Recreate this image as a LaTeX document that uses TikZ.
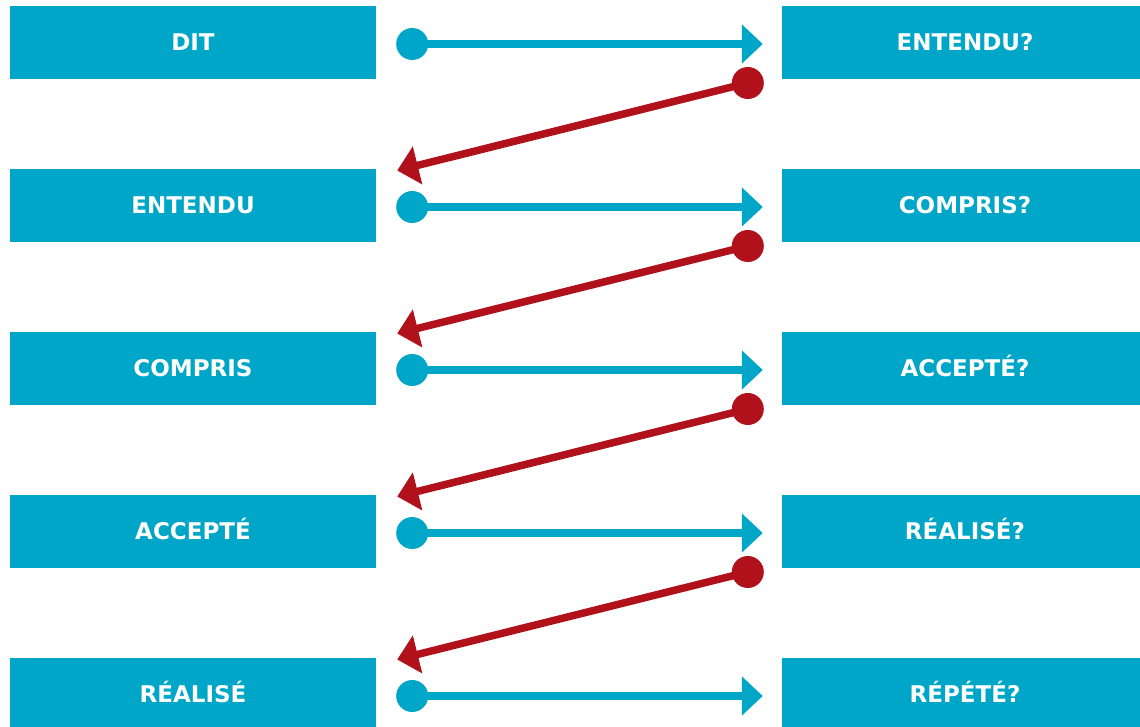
\documentclass[tikz,border=0pt]{standalone}
\usepackage{fontspec}
\setmainfont{DejaVu Sans}
\usetikzlibrary{arrows.meta,calc}
\definecolor{cblue}{RGB}{0,166,200}
\definecolor{cred}{RGB}{176,17,26}
\tikzset{
  box/.style={fill=cblue, text=white, minimum width=366pt, minimum height=73pt, inner sep=0pt,
    text height=16pt, text depth=0pt,
    font=\bfseries\fontsize{23}{23}\selectfont},
  blueline/.style={draw=cblue, line width=7.5pt, -{Triangle[length=21pt,width=38pt]}},
  redline/.style={draw=cred, line width=7.5pt, -{Triangle[length=21pt,width=38pt]}},
  bdot/.style={fill=cblue},
  rdot/.style={fill=cred}
}
\begin{document}
\begin{tikzpicture}[x=1pt,y=-1pt]
\useasboundingbox (0,0) rectangle (1140,727);
\node[box] (L1) at (193,42.5) {DIT};
\node[box] (L2) at (193,205.5) {ENTENDU};
\node[box] (L3) at (193,368.5) {COMPRIS};
\node[box] (L4) at (193,531.5) {ACCEPTÉ};
\node[box] (L5) at (193,694.5) {RÉALISÉ};
\node[box] (R1) at (965,42.5) {ENTENDU?};
\node[box] (R2) at (965,205.5) {COMPRIS?};
\node[box] (R3) at (965,368.5) {ACCEPTÉ?};
\node[box] (R4) at (965,531.5) {RÉALISÉ?};
\node[box] (R5) at (965,694.5) {RÉPÉTÉ?};
\foreach \i in {1,...,5}{
  \coordinate (bs\i) at ($(L\i.east)+(36,1.5)$);
  \coordinate (be\i) at ($(R\i.west)+(-19,1.5)$);
  \draw[blueline] (bs\i) -- (be\i);
  \fill[bdot] (bs\i) circle[radius=16pt];
}
\foreach \i/\j in {1/2,2/3,3/4,4/5}{
  \coordinate (rs\i) at ($(R\i.west)+(-34,40.5)$);
  \coordinate (re\i) at ($(L\j.east)+(21,-35)$);
  \draw[redline] (rs\i) -- (re\i);
  \fill[rdot] (rs\i) circle[radius=16pt];
}
\end{tikzpicture}
\end{document}
